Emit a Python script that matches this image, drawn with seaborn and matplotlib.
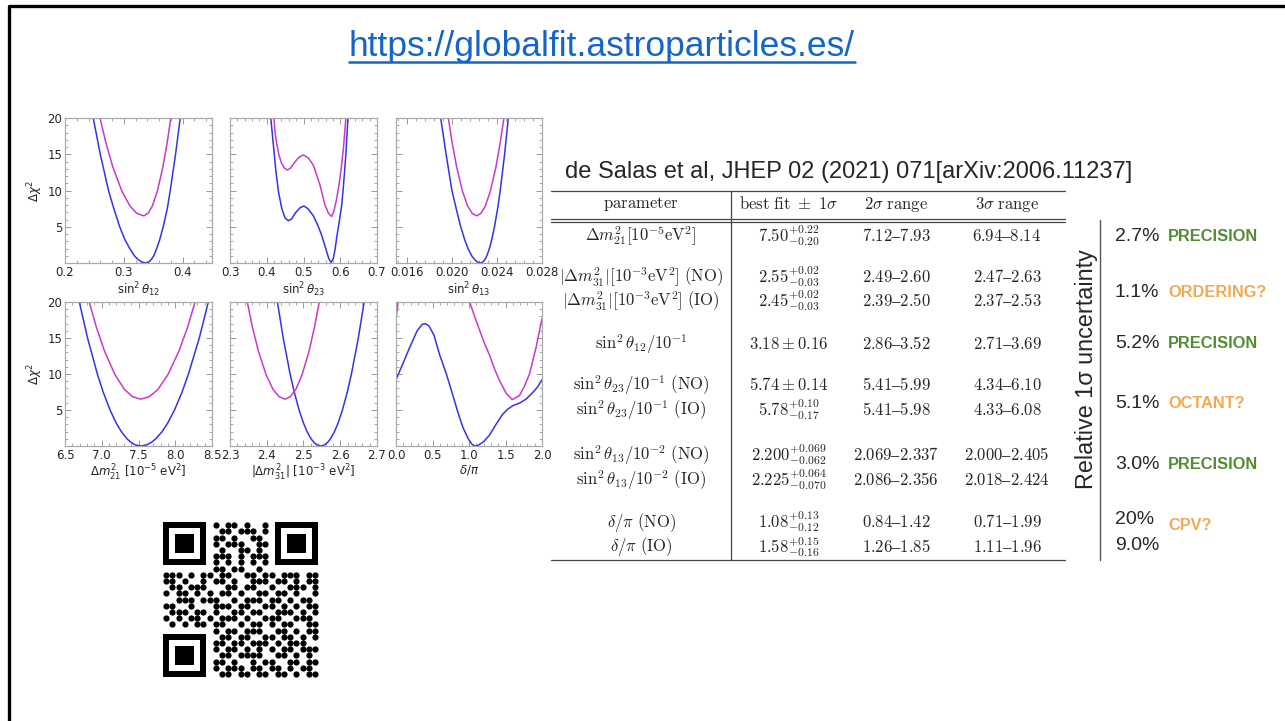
import seaborn as sns
import matplotlib.pyplot as plt
import pandas as pd
from matplotlib.lines import Line2D
from matplotlib.patches import Rectangle
from matplotlib.ticker import AutoMinorLocator

W, H = 1285, 721

# ---- chi2 profiles (NO = blue, IO = magenta) ----
th12_no_x = [0.248, 0.260, 0.274, 0.283, 0.293, 0.302, 0.310, 0.318, 0.324, 0.330, 0.338,
             0.343, 0.347, 0.351, 0.356, 0.361, 0.367, 0.374, 0.379, 0.388, 0.396]
th12_no_y = [20, 15, 10, 7.5, 5, 3.2, 2, 1, 0.5, 0.15, 0, 0.15, 0.5, 1, 2, 3.2, 5, 7.5, 10, 15, 20]
th12_io_x = [0.2595, 0.2695, 0.2813, 0.2968, 0.3105, 0.3222, 0.334, 0.3413, 0.3485, 0.357, 0.3665, 0.3738, 0.380]
th12_io_y = [20, 16.6, 13.25, 9.9, 7.85, 6.85, 6.5, 6.85, 7.85, 9.9, 13.25, 16.6, 20]

th23_no_x = [0.411, 0.418, 0.425, 0.432, 0.441, 0.450, 0.459, 0.468, 0.477, 0.490, 0.501, 0.512, 0.527, 0.538,
             0.549, 0.557, 0.563, 0.569, 0.575, 0.581, 0.586, 0.590, 0.597, 0.604, 0.609, 0.615, 0.621]
th23_no_y = [20, 16.3, 12.6, 9.8, 7.5, 6.2, 5.83, 6.1, 6.85, 7.6, 7.86, 7.5, 6.5, 5.3,
             3.9, 2.6, 1.56, 0.6, 0.05, 0.6, 1.9, 3.4, 5.6, 8.0, 10.8, 14.8, 20]
th23_io_x = [0.4197, 0.4225, 0.4270, 0.4330, 0.4400, 0.4480, 0.4559, 0.4650, 0.4760, 0.4880, 0.4995, 0.5130,
             0.5267, 0.5449, 0.5585, 0.5676, 0.5765, 0.583, 0.590, 0.597, 0.603, 0.609, 0.6153]
th23_io_y = [20, 18.0, 16.5, 14.9, 13.8, 13.1, 12.83, 13.1, 13.9, 14.6, 14.9, 14.5,
             13.5, 10.76, 8.0, 6.9, 6.4, 7.2, 8.8, 10.9, 13.2, 16.0, 20]

th13_no_x = [0.01898, 0.01946, 0.01998, 0.02036, 0.02076, 0.02112, 0.02141, 0.02174, 0.02198, 0.02223, 0.02254,
             0.02275, 0.02293, 0.02309, 0.02332, 0.02352, 0.02377, 0.02405, 0.02428, 0.02467, 0.02500]
th13_no_y = [20, 15, 10, 7.5, 5, 3.2, 2, 1, 0.5, 0.15, 0, 0.15, 0.5, 1, 2, 3.2, 5, 7.5, 10, 15, 20]
th13_io_x = [0.01966, 0.02000, 0.02040, 0.02092, 0.02138, 0.02178, 0.02218, 0.02256, 0.02295, 0.02340, 0.02390, 0.02428, 0.02461]
th13_io_y = [20, 16.6, 13.25, 9.9, 7.85, 6.85, 6.5, 6.85, 7.85, 9.9, 13.25, 16.6, 20]

dm21_no_x = [6.695, 6.807, 6.940, 7.019, 7.113, 7.196, 7.266, 7.343, 7.398, 7.457, 7.53,
             7.610, 7.675, 7.736, 7.821, 7.898, 7.99, 8.093, 8.180, 8.327, 8.45]
dm21_no_y = [20, 15, 10, 7.5, 5, 3.2, 2, 1, 0.5, 0.15, 0, 0.15, 0.5, 1, 2, 3.2, 5, 7.5, 10, 15, 20]
dm21_io_x = [6.83, 6.924, 7.035, 7.18, 7.309, 7.419, 7.53, 7.647, 7.764, 7.90, 8.053, 8.171, 8.27]
dm21_io_y = [20, 16.6, 13.25, 9.9, 7.85, 6.85, 6.5, 6.85, 7.85, 9.9, 13.25, 16.6, 20]

dm31_no_x = [2.429, 2.4448, 2.4636, 2.4748, 2.488, 2.4998, 2.5097, 2.5206, 2.5284, 2.5367, 2.547,
             2.5573, 2.5656, 2.5734, 2.5843, 2.5942, 2.606, 2.6192, 2.6304, 2.6492, 2.665]
dm31_no_y = [20, 15, 10, 7.5, 5, 3.2, 2, 1, 0.5, 0.15, 0, 0.15, 0.5, 1, 2, 3.2, 5, 7.5, 10, 15, 20]
dm31_io_x = [2.347, 2.3605, 2.3769, 2.3982, 2.4172, 2.4334, 2.4497, 2.4644, 2.4791, 2.4962, 2.5155, 2.5302, 2.543]
dm31_io_y = [20, 16.6, 13.25, 9.9, 7.85, 6.85, 6.5, 6.85, 7.85, 9.9, 13.25, 16.6, 20]

dcp_no_x = [0.0, 0.08, 0.19, 0.29, 0.36, 0.40, 0.45, 0.52, 0.60, 0.69, 0.78, 0.85, 0.92, 0.99,
            1.04, 1.08, 1.13, 1.20, 1.28, 1.37, 1.46, 1.53, 1.60, 1.70, 1.78, 1.87, 1.94, 2.0]
dcp_no_y = [9.2, 11.1, 13.75, 16.0, 16.9, 17.0, 16.7, 15.4, 12.6, 10.0, 7.0, 4.6, 2.5, 1.0,
            0.25, 0.0, 0.12, 0.6, 1.5, 3.0, 4.4, 5.1, 5.6, 6.0, 6.5, 7.4, 8.2, 9.2]
dcp_io_a_x = [0.0, 0.03]
dcp_io_a_y = [17.7, 20]
dcp_io_b_x = [1.009, 1.08, 1.146, 1.21, 1.282, 1.35, 1.418, 1.51, 1.592, 1.69, 1.76, 1.83, 1.92, 2.0]
dcp_io_b_y = [20, 17.9, 16.07, 14.3, 12.6, 10.7, 9.1, 7.3, 6.44, 7.0, 8.3, 10.05, 13.75, 17.7]

# ---- table ----
params = [r"$\Delta m^2_{21}[10^{-5}\mathrm{eV}^2]$",
          r"$|\Delta m^2_{31}|[10^{-3}\mathrm{eV}^2]\ \mathrm{(NO)}$",
          r"$|\Delta m^2_{31}|[10^{-3}\mathrm{eV}^2]\ \mathrm{(IO)}$",
          r"$\sin^2\theta_{12}/10^{-1}$",
          r"$\sin^2\theta_{23}/10^{-1}\ \mathrm{(NO)}$",
          r"$\sin^2\theta_{23}/10^{-1}\ \mathrm{(IO)}$",
          r"$\sin^2\theta_{13}/10^{-2}\ \mathrm{(NO)}$",
          r"$\sin^2\theta_{13}/10^{-2}\ \mathrm{(IO)}$",
          r"$\delta/\pi\ \mathrm{(NO)}$",
          r"$\delta/\pi\ \mathrm{(IO)}$"]
best_fit = [r"$7.50^{+0.22}_{-0.20}$", r"$2.55^{+0.02}_{-0.03}$", r"$2.45^{+0.02}_{-0.03}$",
            r"$3.18\pm0.16$", r"$5.74\pm0.14$", r"$5.78^{+0.10}_{-0.17}$",
            r"$2.200^{+0.069}_{-0.062}$", r"$2.225^{+0.064}_{-0.070}$",
            r"$1.08^{+0.13}_{-0.12}$", r"$1.58^{+0.15}_{-0.16}$"]
range_2s = ["7.12–7.93", "2.49–2.60", "2.39–2.50", "2.86–3.52", "5.41–5.99",
            "5.41–5.98", "2.069–2.337", "2.086–2.356", "0.84–1.42", "1.26–1.85"]
range_3s = ["6.94–8.14", "2.47–2.63", "2.37–2.53", "2.71–3.69", "4.34–6.10",
            "4.33–6.08", "2.000–2.405", "2.018–2.424", "0.71–1.99", "1.11–1.96"]
headers = [r"$\mathrm{parameter}$", r"$\mathrm{best\ fit}\ \pm\ 1\sigma$",
           r"$2\sigma\ \mathrm{range}$", r"$3\sigma\ \mathrm{range}$"]

rel_unc = ["2.7%", "1.1%", "5.2%", "5.1%", "3.0%", "20%", "9.0%"]
tags = ["PRECISION", "ORDERING?", "PRECISION", "OCTANT?", "PRECISION", "CPV?"]

qr_rows = [
    ".......0101101001" + "0.......",
    ".......0011011101" + "0.......",
    ".......0110100110" + "0.......",
    ".......0101110011" + "0.......",
    ".......0010011010" + "0.......",
    ".......0111010111" + "0.......",
    ".......0101010101" + "0.......",
    "00000000" + "110110010" + "00000000",
    "11101011" + "011001101" + "10111011",
    "1101001011010011101101011",
    "0110111000110110010011101",
    "1011010101101001101101001",
    "0011101110010111011010110",
    "1100100011101100110101011",
    "0111011010011011001110101",
    "1010110101110100111001110",
    "0101011011001011010110011",
    "00000000" + "10110111001101011",
    ".......0" + "01101100110110101",
    ".......0" + "11011011101011100",
    ".......0" + "10110101010110111",
    ".......0" + "01101111001101010",
    ".......0" + "11010010110011011",
    ".......0" + "10111011011010110",
    ".......0" + "01101101101101011",
]

BLUE = "#3434e0"
MAGENTA = "#c83ac8"
GREEN = "#548c34"
ORANGE = "#f0aa52"

sns.set_style("ticks")
plt.rcParams['font.family'] = ['DejaVu Sans']
plt.rcParams['mathtext.fontset'] = 'dejavusans'

fig = plt.figure(figsize=(12.85, 7.21), dpi=100)


def fx(px):
    return px / W


def fy(py):
    return 1 - py / H


def hline(x0, x1, y, lw=0.9, color="#444444"):
    fig.add_artist(Line2D([fx(x0), fx(x1)], [fy(y), fy(y)], transform=fig.transFigure, lw=lw, color=color))


def vline(x, y0, y1, lw=0.9, color="#444444"):
    fig.add_artist(Line2D([fx(x), fx(x)], [fy(y0), fy(y1)], transform=fig.transFigure, lw=lw, color=color))


# slide frame
fig.add_artist(Line2D([fx(9), fx(9), fx(W + 5)], [fy(H + 5), fy(6), fy(6)],
                      transform=fig.transFigure, lw=2.4, color="black"))

# link title, underlined just below the baseline
url = fig.text(fx(602), fy(56), "https://globalfit.astroparticles.es/", ha="center", va="baseline",
               fontsize=25.5, color="#1565c8", family="Liberation Sans")
fig.canvas.draw()
bb = url.get_window_extent(fig.canvas.get_renderer())
fig.add_artist(Line2D([bb.x0 / W, bb.x1 / W], [fy(62), fy(62)],
                      transform=fig.transFigure, lw=1.8, color="#1565c8"))

# ---- chi2 panels ----
panels = [
    dict(box=(65, 118, 212, 263), xlim=(0.2, 0.45), ticks=[0.2, 0.3, 0.4], labels=["0.2", "0.3", "0.4"],
         xlabel=r"$\sin^2\theta_{12}$", curves=[(th12_no_x, th12_no_y, "NO"), (th12_io_x, th12_io_y, "IO")]),
    dict(box=(230, 118, 377, 263), xlim=(0.3, 0.7), ticks=[0.3, 0.4, 0.5, 0.6, 0.7],
         labels=["0.3", "0.4", "0.5", "0.6", "0.7"],
         xlabel=r"$\sin^2\theta_{23}$", curves=[(th23_no_x, th23_no_y, "NO"), (th23_io_x, th23_io_y, "IO")]),
    dict(box=(396, 118, 542, 263), xlim=(0.015, 0.028), ticks=[0.016, 0.020, 0.024, 0.028],
         labels=["0.016", "0.020", "0.024", "0.028"],
         xlabel=r"$\sin^2\theta_{13}$", curves=[(th13_no_x, th13_no_y, "NO"), (th13_io_x, th13_io_y, "IO")]),
    dict(box=(65, 302, 212, 446), xlim=(6.5, 8.5), ticks=[6.5, 7.0, 7.5, 8.0, 8.5],
         labels=["6.5", "7.0", "7.5", "8.0", "8.5"],
         xlabel=r"$\Delta m^2_{21}$ [$10^{-5}$ eV$^2$]",
         curves=[(dm21_no_x, dm21_no_y, "NO"), (dm21_io_x, dm21_io_y, "IO")]),
    dict(box=(230, 302, 377, 446), xlim=(2.3, 2.7), ticks=[2.3, 2.4, 2.5, 2.6, 2.7],
         labels=["2.3", "2.4", "2.5", "2.6", "2.7"],
         xlabel=r"$|\Delta m^2_{31}|$ [$10^{-3}$ eV$^2$]",
         curves=[(dm31_no_x, dm31_no_y, "NO"), (dm31_io_x, dm31_io_y, "IO")]),
    dict(box=(396, 302, 542, 446), xlim=(0.0, 2.0), ticks=[0.0, 0.5, 1.0, 1.5, 2.0],
         labels=["0.0", "0.5", "1.0", "1.5", "2.0"],
         xlabel=r"$\delta/\pi$",
         curves=[(dcp_no_x, dcp_no_y, "NO"), (dcp_io_a_x, dcp_io_a_y, "IO"), (dcp_io_b_x, dcp_io_b_y, "IO")]),
]

for i, p in enumerate(panels):
    l, t, r, b = p["box"]
    ax = fig.add_axes([fx(l), fy(b), fx(r) - fx(l), fy(t) - fy(b)])
    rows = []
    for seg, (xs, ys, order) in enumerate(p["curves"]):
        for xv, yv in zip(xs, ys):
            rows.append({"x": xv, "chi2": yv, "ordering": order, "seg": seg})
    df = pd.DataFrame(rows)
    sns.lineplot(data=df, x="x", y="chi2", hue="ordering", units="seg", estimator=None, sort=False,
                 palette={"NO": BLUE, "IO": MAGENTA}, linewidth=1.1, legend=False, ax=ax)
    ax.set_xlim(p["xlim"])
    ax.set_ylim(0, 20)
    ax.set_xticks(p["ticks"])
    ax.set_xticklabels(p["labels"])
    ax.set_yticks([5, 10, 15, 20])
    if i % 3 == 0:
        ax.set_yticklabels(["5", "10", "15", "20"])
        ax.set_ylabel(r"$\Delta\chi^2$", fontsize=8.5, labelpad=2)
    else:
        ax.set_yticklabels([])
        ax.set_ylabel("")
    ax.set_xlabel(p["xlabel"], fontsize=8.5, labelpad=1)
    ax.xaxis.set_minor_locator(AutoMinorLocator(5))
    ax.yaxis.set_minor_locator(AutoMinorLocator(5))
    ax.tick_params(which="both", direction="in", top=True, right=True, color="#999999",
                   labelsize=8.5, pad=2)
    ax.tick_params(which="major", length=4, width=0.7)
    ax.tick_params(which="minor", length=2, width=0.6)
    for s in ax.spines.values():
        s.set_color("#aaaaaa")
        s.set_linewidth(0.9)

# ---- table ----
fig.text(fx(849), fy(172), "de Salas et al, JHEP 02 (2021) 071[arXiv:2006.11237]", ha="center", va="center",
         fontsize=17, family="Liberation Sans")
hline(551, 1065, 191)
hline(551, 1065, 219)
hline(551, 1065, 222)
hline(551, 1065, 560)
vline(731, 191, 560)

col_x = [641, 789, 896, 1007]
for cx, h in zip(col_x, headers):
    fig.text(fx(cx), fy(204), h, ha="center", va="center", fontsize=12, math_fontfamily="cm")

row_y = [236, 277, 301, 344, 385, 410, 455, 480, 522, 547]
for ry, c0, c1, c2, c3 in zip(row_y, params, best_fit, range_2s, range_3s):
    for cx, txt in zip(col_x, [c0, c1, "$\\mathrm{" + c2 + "}$", "$\\mathrm{" + c3 + "}$"]):
        fig.text(fx(cx), fy(ry), txt, ha="center", va="center", fontsize=12, math_fontfamily="cm")

# ---- relative uncertainty column ----
vline(1100, 220, 560, lw=1.0, color="#555555")
fig.text(fx(1087), fy(369), "Relative 1σ uncertainty", rotation=90, ha="center", va="center",
         fontsize=16.8, family="Liberation Sans")
pct_y = [236, 292, 344, 404, 464, 520, 546]
for py, v in zip(pct_y, rel_unc):
    fig.text(fx(1115), fy(py), v, ha="left", va="center", fontsize=14, family="Liberation Sans")
tag_y = [236, 292, 344, 404, 464, 525]
for py, tg in zip(tag_y, tags):
    col = GREEN if tg == "PRECISION" else ORANGE
    fig.text(fx(1168), fy(py), tg, ha="left", va="center", fontsize=11.8, fontweight="bold",
             color=col, family="Liberation Sans")

# ---- QR code ----
qax = fig.add_axes([fx(163), fy(677), fx(318) - fx(163), fy(522) - fy(677)])
dots = []
for r, line in enumerate(qr_rows):
    for c, ch in enumerate(line):
        if ch == "1":
            dots.append({"col": c, "row": r})
qdf = pd.DataFrame(dots)
sns.scatterplot(data=qdf, x="col", y="row", s=20, color="black", linewidth=0, ax=qax)
for (c0, r0) in [(0, 0), (18, 0), (0, 18)]:
    qax.add_patch(Rectangle((c0 - 0.5, r0 - 0.5), 7, 7, color="black", lw=0))
    qax.add_patch(Rectangle((c0 + 0.5, r0 + 0.5), 5, 5, color="white", lw=0))
    qax.add_patch(Rectangle((c0 + 1.5, r0 + 1.5), 3, 3, color="black", lw=0))
qax.set_xlim(-0.5, 24.5)
qax.set_ylim(24.5, -0.5)
qax.set_axis_off()

fig.savefig("out.png", dpi=100)
